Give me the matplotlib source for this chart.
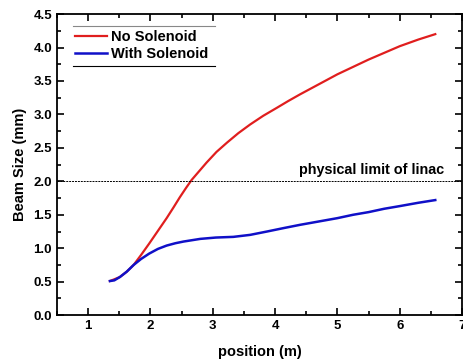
import matplotlib
matplotlib.use('Agg')
import matplotlib.pyplot as plt
from matplotlib.ticker import MultipleLocator

plt.rcParams['font.family'] = ['Liberation Sans', 'DejaVu Sans']
plt.rcParams['font.weight'] = 'bold'

# Curvas
pos_sem = [1.35, 1.51, 1.62, 1.73, 1.85, 1.98, 2.12, 2.26, 2.37, 2.47, 2.57, 2.66,
           2.78, 2.90, 3.06, 3.23, 3.41, 3.60, 3.81, 4.03, 4.21, 4.40, 4.70, 5.00,
           5.25, 5.50, 5.75, 6.00, 6.30, 6.57]
beam_sem = [0.51, 0.57, 0.65, 0.75, 0.90, 1.07, 1.26, 1.45, 1.61, 1.76, 1.90, 2.02,
            2.15, 2.28, 2.44, 2.58, 2.72, 2.85, 2.98, 3.10, 3.20, 3.30, 3.45, 3.60,
            3.71, 3.82, 3.92, 4.02, 4.12, 4.20]

pos_com = [1.35, 1.42, 1.51, 1.62, 1.73, 1.85, 1.98, 2.12, 2.26, 2.40, 2.53, 2.80,
           3.05, 3.33, 3.60, 3.87, 4.13, 4.40, 4.70, 5.00, 5.25, 5.50, 5.75, 6.00,
           6.30, 6.57]
beam_com = [0.51, 0.52, 0.57, 0.65, 0.75, 0.84, 0.92, 0.99, 1.04, 1.075, 1.10, 1.14,
            1.16, 1.17, 1.20, 1.25, 1.30, 1.35, 1.40, 1.45, 1.50, 1.54, 1.59, 1.63,
            1.68, 1.72]

limite = 2.0

fig = plt.figure(figsize=(4.63, 3.61), dpi=100)
ax = fig.add_axes([0.123, 0.127, 0.875, 0.834])

ax.plot(pos_sem, beam_sem, color='#e01e1e', lw=1.6, label='No Solenoid')
ax.plot(pos_com, beam_com, color='#1010c8', lw=1.8, label='With Solenoid')
ax.axhline(limite, color='black', lw=0.7, ls=(0, (2, 1)))
ax.text(6.72, limite + 0.07, 'physical limit of linac', ha='right', va='bottom',
        fontsize=10.4, fontweight='bold')

ax.set_xlim(0.5, 7)
ax.set_ylim(0, 4.5)
ax.xaxis.set_major_locator(MultipleLocator(1))
ax.xaxis.set_minor_locator(MultipleLocator(0.5))
ax.yaxis.set_major_locator(MultipleLocator(0.5))
ax.yaxis.set_minor_locator(MultipleLocator(0.25))
ax.set_xticks([1, 2, 3, 4, 5, 6, 7])
ax.set_xticklabels(['1', '2', '3', '4', '5', '6', '7'])
ax.set_yticklabels(['%.1f' % v for v in ax.get_yticks()])

ax.tick_params(which='both', direction='in', top=True, right=True, width=1.2,
               labelsize=9.5)
ax.tick_params(which='major', length=5)
ax.tick_params(which='minor', length=3)
for s in ax.spines.values():
    s.set_linewidth(1.3)

ax.set_xlabel('position (m)', fontsize=10.5, fontweight='bold', labelpad=9)
ax.set_ylabel('Beam Size (mm)', fontsize=10.5, fontweight='bold', labelpad=5)

leg = ax.legend(loc='upper left', bbox_to_anchor=(0.03, 0.965), frameon=False,
                fontsize=10.5, handlelength=2.2, handletextpad=0.3,
                borderaxespad=0, labelspacing=0.15)
for t in leg.get_texts():
    t.set_fontweight('bold')
# linhas acima e abaixo da legenda
ax.plot([0.04, 0.39], [0.96, 0.96], color='#888888', lw=0.8, transform=ax.transAxes)
ax.plot([0.04, 0.39], [0.827, 0.827], color='black', lw=0.8, transform=ax.transAxes)

fig.savefig('out.png', dpi=100)
